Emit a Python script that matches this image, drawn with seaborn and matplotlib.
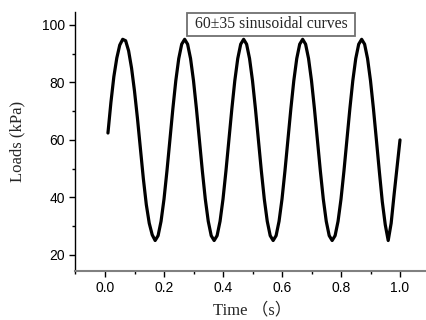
import numpy as np
import pandas as pd
import matplotlib
matplotlib.use("Agg")
import matplotlib.pyplot as plt
import seaborn as sns
from matplotlib.ticker import MultipleLocator

# Time grid (s) and loads (kPa)
time_s = [round(0.01 * i, 2) for i in range(1, 101)]
loads_kpa = [
    62.4, 73.0, 82.0, 88.5, 93.0, 95.0, 94.5, 91.0, 85.0, 77.0,
    67.5, 57.0, 46.5, 37.5, 31.0, 27.0, 25.0, 26.7, 31.7, 39.4,
    49.2, 60.0, 70.8, 80.6, 88.3, 93.3, 95.0, 93.3, 88.3, 80.6,
    70.8, 60.0, 49.2, 39.4, 31.7, 26.7, 25.0, 26.7, 31.7, 39.4,
    49.2, 60.0, 70.8, 80.6, 88.3, 93.3, 95.0, 93.3, 88.3, 80.6,
    70.8, 60.0, 49.2, 39.4, 31.7, 26.7, 25.0, 26.7, 31.7, 39.4,
    49.2, 60.0, 70.8, 80.6, 88.3, 93.3, 95.0, 93.3, 88.3, 80.6,
    70.8, 60.0, 49.2, 39.4, 31.7, 26.7, 25.0, 26.7, 31.7, 39.4,
    49.2, 60.0, 70.8, 80.6, 88.3, 93.3, 95.0, 93.3, 88.3, 80.6,
    70.8, 60.0, 49.0, 38.5, 30.5, 25.0, 31.0, 41.0, 50.5, 60.0,
]
x_ticks = [0.0, 0.2, 0.4, 0.6, 0.8, 1.0]
y_ticks = [20, 40, 60, 80, 100]
annotation = "60±35 sinusoidal curves"
x_label = "Time （s）"
y_label = "Loads (kPa)"

df = pd.DataFrame({"t": time_s, "load": loads_kpa})

sns.set_style("ticks")
plt.rcParams["font.family"] = ["Liberation Sans", "DejaVu Sans"]

fig = plt.figure(figsize=(4.27, 3.2), dpi=100)
ax = fig.add_axes([75.5 / 427, 1 - 270.7 / 320, 354 / 427, (270.7 - 12) / 320])

sns.lineplot(data=df, x="t", y="load", ax=ax, color="black", linewidth=2.3)

ax.set_xlim(-0.1, 1.1)
ax.set_ylim(14.5, 104.5)
ax.set_xticks(x_ticks)
ax.set_xticklabels([f"{v:.1f}" for v in x_ticks])
ax.set_yticks(y_ticks)
ax.set_yticklabels([str(v) for v in y_ticks])
ax.xaxis.set_minor_locator(MultipleLocator(0.1))
ax.yaxis.set_minor_locator(MultipleLocator(10))
ax.tick_params(which="major", direction="out", length=4, width=1, labelsize=10, colors="black")
ax.tick_params(which="minor", direction="out", length=2.5, width=1, colors="black")

for s in ["top", "right"]:
    ax.spines[s].set_visible(False)
ax.spines["left"].set_color("black")
ax.spines["left"].set_linewidth(1.0)
ax.spines["bottom"].set_color("#808080")
ax.spines["bottom"].set_linewidth(1.5)

serif = ["Liberation Serif", "Noto Sans CJK SC", "DejaVu Serif"]
ax.set_xlabel(x_label, family=serif, fontsize=12, labelpad=5)
ax.set_ylabel(y_label, family=serif, fontsize=12, labelpad=12)

ax.text(0.563, 100.2, " " + annotation + " ", ha="center", va="center", family=serif,
        fontsize=11.3,
        bbox=dict(boxstyle="square,pad=0.22", facecolor="white", edgecolor="#707070", linewidth=1.3))

fig.savefig("out.png", dpi=100)
